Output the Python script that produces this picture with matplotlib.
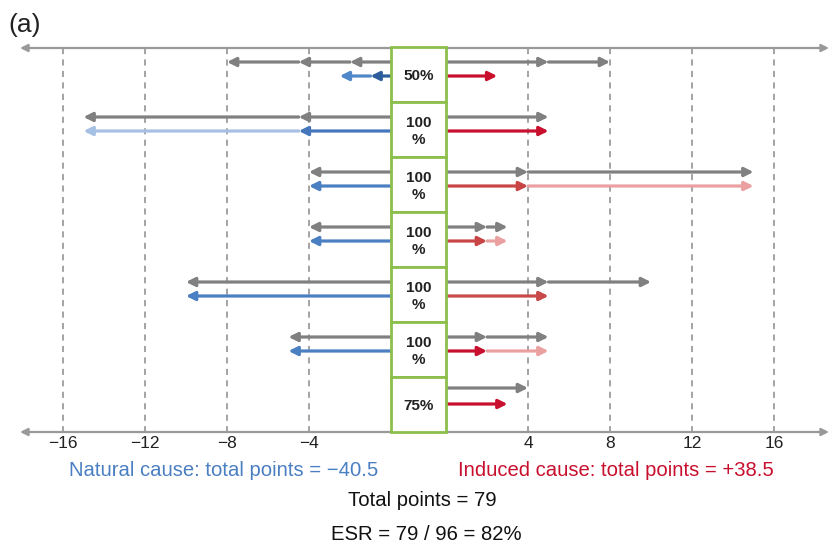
import matplotlib.pyplot as plt
from matplotlib.patches import Rectangle

# per-row weighting shown in the centre column
weights = ["50%", "100\n%", "100\n%", "100\n%", "100\n%", "100\n%", "75%"]

# maximum attainable points (grey), break points along each arrow
max_natural = [[-2, -4.5, -8], [-4.5, -15], [-4], [-4], [-10], [-5], []]
max_induced = [[5, 8], [5], [4, 15], [2, 3], [5, 10], [2, 5], [4]]

# scored points, break points along each arrow
natural = [[-1, -2.5], [-4.5, -15], [-4], [-4], [-10], [-5], []]
induced = [[2.5], [5], [4, 15], [2, 3], [5], [2, 5], [3]]

natural_colors = [["#2d5d9b", "#4f87c9"], ["#4677bd", "#a7c1e4"], ["#4a7fc2"],
                  ["#4a7fc2"], ["#4a7fc2"], ["#4a7fc2"], []]
induced_colors = [["#c8102e"], ["#c8102e"], ["#c94545", "#eaa0a0"],
                  ["#c94545", "#eaa0a0"], ["#c94848"], ["#c8102e", "#eaa0a0"],
                  ["#c8102e"]]

grid_ticks = [-16, -12, -8, -4, 4, 8, 12, 16]

natural_total = -40.5
induced_total = 38.5
total_points = 79
max_points = 96

GREY = "#808080"
AXIS_GREY = "#999999"
GREEN = "#8dbf4c"
SANS = ["Liberation Sans", "DejaVu Sans"]

# layout (pixels on an 830x545 canvas)
W, H = 830, 545
PX_PER_UNIT = 20.5
BOX_LEFT, BOX_RIGHT = 391, 446
TOP = 47
ROW_H = 55
CENTER_PX = (BOX_LEFT + BOX_RIGHT) / 2
HALF_GAP = (BOX_RIGHT - BOX_LEFT) / 2 / PX_PER_UNIT


def to_u(v):
    # the centre column splits the number line: negatives sit left of it,
    # positives right of it
    return v - HALF_GAP if v < 0 else v + HALF_GAP


def arrow(ax, x0, x1, y, color, lw=2.3, style="-|>", scale=13):
    ax.annotate("", xy=(x1, y), xytext=(x0, y),
                arrowprops=dict(arrowstyle=style, color=color, lw=lw,
                                mutation_scale=scale, shrinkA=0, shrinkB=0))


def chain(ax, stops, y, colors):
    start = 0.0
    for i, stop in enumerate(stops):
        x0 = to_u(start) if start != 0 else (-HALF_GAP if stop < 0 else HALF_GAP)
        arrow(ax, x0, to_u(stop), y, colors[i % len(colors)])
        start = stop


fig = plt.figure(figsize=(W / 100, H / 100), dpi=100)
ax = fig.add_axes([0, 0, 1, 1])
ax.set_xlim(-CENTER_PX / PX_PER_UNIT, (W - CENTER_PX) / PX_PER_UNIT)
ax.set_ylim(H, 0)
ax.axis("off")

n_rows = len(weights)
bottom = TOP + n_rows * ROW_H

# dashed reference lines
for t in grid_ticks:
    ax.plot([to_u(t), to_u(t)], [TOP + 1, bottom], color="#8a8a8a", lw=1.1,
            linestyle=(0, (4, 3.5)), zorder=1)

# number lines at top and bottom
left_tip = (20 - CENTER_PX) / PX_PER_UNIT
right_tip = (829 - CENTER_PX) / PX_PER_UNIT
for y in (TOP + 1, bottom):
    arrow(ax, left_tip, right_tip, y, AXIS_GREY, lw=1.6, style="<|-|>", scale=11)

for t in grid_ticks:
    label = f"\u2212{abs(t)}" if t < 0 else f"{t}"
    ax.text(to_u(t), bottom + 11, label, ha="center", va="center",
            fontsize=12.5, family=SANS, color="#222222")

for i in range(n_rows):
    top = TOP + i * ROW_H
    last = i == n_rows - 1
    y_grey = top + (11 if last else 15)
    y_col = top + (27 if last else 29)
    if max_natural[i]:
        chain(ax, max_natural[i], y_grey, [GREY])
    if max_induced[i]:
        chain(ax, max_induced[i], y_grey, [GREY])
    if natural[i]:
        chain(ax, natural[i], y_col, natural_colors[i])
    if induced[i]:
        chain(ax, induced[i], y_col, induced_colors[i])

    ax.add_patch(Rectangle((-HALF_GAP, top), 2 * HALF_GAP, ROW_H,
                           facecolor="white", edgecolor=GREEN, lw=2.0, zorder=5))
    ax.text(0, top + ROW_H / 2 + 2, weights[i], ha="center", va="center",
            fontsize=11, fontweight="bold", family=SANS,
            linespacing=1.3, zorder=6, color="#222222")

fig.text(8 / W, 1 - 25 / H, "(a)", fontsize=19, ha="left", va="center",
         family=SANS, color="#222222")

fig.text(224 / W, 1 - 471 / H, f"Natural cause: total points = \u2212{abs(natural_total):g}",
         ha="center", va="center", fontsize=14.6, family=SANS, color="#4a7fc2")
fig.text(616 / W, 1 - 471 / H, f"Induced cause: total points = +{induced_total:g}",
         ha="center", va="center", fontsize=14.6, family=SANS, color="#c8102e")
fig.text(422 / W, 1 - 501 / H, f"Total points = {total_points}",
         ha="center", va="center", fontsize=14.6, family=SANS, color="#111111")
fig.text(426 / W, 1 - 535 / H,
         f"ESR = {total_points} / {max_points} = {round(100 * total_points / max_points)}%",
         ha="center", va="center", fontsize=14.6, family=SANS, color="#111111")

fig.savefig("out.png", dpi=100)
